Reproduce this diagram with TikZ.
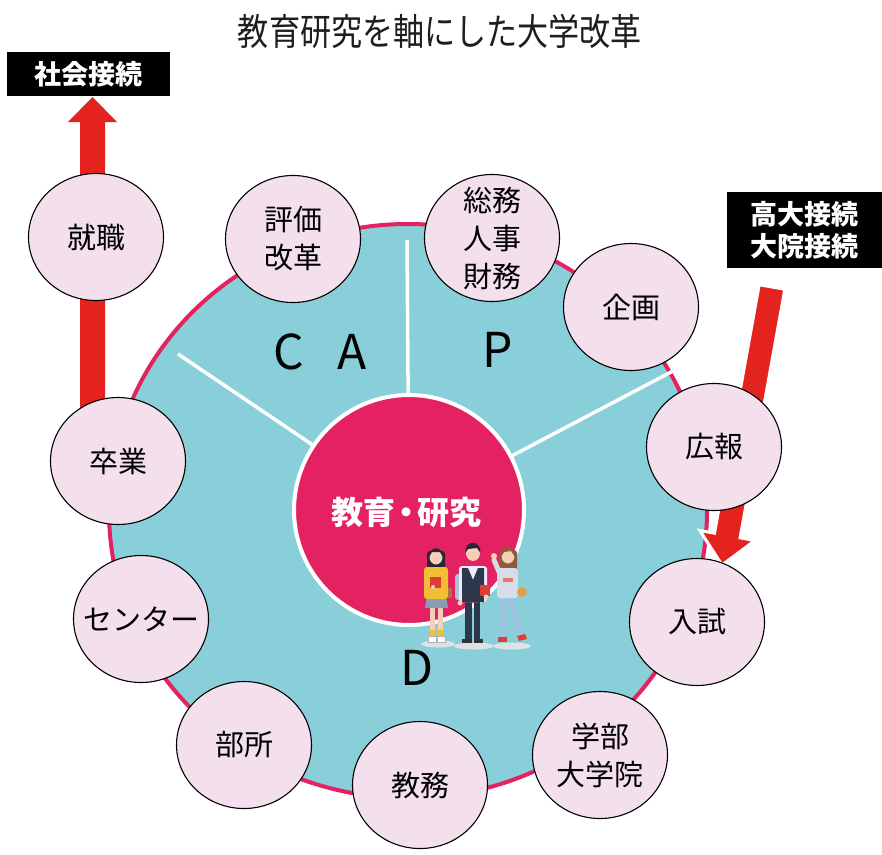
\documentclass[tikz,border=0pt]{standalone}
\usepackage{graphicx}
\usepackage{fontspec}
\newfontfamily\jp{Noto Sans CJK JP}
\usetikzlibrary{shapes.geometric}

\definecolor{ringfill}{RGB}{137,207,217}
\definecolor{ringedge}{RGB}{228,34,95}
\definecolor{corefill}{RGB}{228,34,98}
\definecolor{bubblefill}{RGB}{243,224,236}
\definecolor{arrowred}{RGB}{229,35,30}
\definecolor{titleink}{RGB}{30,30,30}
\definecolor{skin}{RGB}{246,208,182}
\definecolor{hairdark}{RGB}{40,38,50}
\definecolor{hairbrown}{RGB}{140,92,62}
\definecolor{shirtyellow}{RGB}{240,192,50}
\definecolor{navy}{RGB}{45,55,75}
\definecolor{denim}{RGB}{160,195,225}
\definecolor{lightgrey}{RGB}{215,220,230}
\definecolor{shadowgrey}{RGB}{220,226,230}
\definecolor{bookred}{RGB}{222,60,55}
\definecolor{bagbrown}{RGB}{170,120,70}
\definecolor{bagorange}{RGB}{225,160,70}
\definecolor{packblue}{RGB}{170,196,220}
\definecolor{skirtgrey}{RGB}{140,155,180}

\begin{document}
\begin{tikzpicture}[x=1pt,y=-1pt,
  bubble/.style={ellipse, draw=black, line width=1.1pt, fill=bubblefill,
    minimum width=135pt, minimum height=127pt, inner sep=0pt},
  bubtext/.style={inner sep=0pt, align=center,
    font=\jp\fontsize{29}{38}\selectfont},
  tagbox/.style={fill=black, text=white, inner sep=0pt, align=center,
    font=\jp\bfseries\fontsize{27}{32}\selectfont},
  divider/.style={draw=white, line width=3.5pt},
  phase/.style={font=\jp\fontsize{48}{48}\selectfont, text=black, inner sep=0pt},
  blockarrow/.style={fill=arrowred},
]
\useasboundingbox (0,0) rectangle (882,854);

% title
\node[font=\jp\fontsize{37}{37}\selectfont, text=titleink] (title) at (440,31)
  {\scalebox{0.84}[1]{教育研究を軸にした大学改革}};

% upward block arrow: graduation -> society
\fill[blockarrow] (80,440) -- (80,122) -- (68,122) -- (92.5,97) -- (117,122)
  -- (105,122) -- (105,440) -- cycle;

% outer ring
\node[ellipse, fill=ringfill, draw=ringedge, line width=4pt,
  minimum width=598pt, minimum height=574pt, inner sep=0pt] (ring) at (408,511) {};

% core circle and the three dividers
\coordinate (dvtop) at (407,240);
\coordinate (dvleft) at (178,354);
\coordinate (dvright) at (673,371);
\coordinate (corectr) at (409,510);
\draw[divider] (dvtop) -- (corectr);
\draw[divider] (dvleft) -- (corectr);
\draw[divider] (dvright) -- (corectr);
\node[circle, fill=corefill, draw=white, line width=4pt, minimum size=230pt,
  inner sep=0pt] (core) at (corectr) {};
\node[font=\jp\bfseries\fontsize{32}{32}\selectfont, text=white] (corelabel)
  at (406,512) {教育\hspace{-5pt}・\hspace{-5pt}研究};

% PDCA letters
\node[phase] (ca) at (320,352) {C\hspace{33pt}A};
\node[phase] (p) at (498,350) {P};
\node[phase] (d) at (417,668) {D};

% students
\fill[shadowgrey] (438,644) ellipse [x radius=17, y radius=3.5];
\fill[shadowgrey] (474,646) ellipse [x radius=20, y radius=3.5];
\fill[shadowgrey] (512,646) ellipse [x radius=19, y radius=3.5];
% girl, left
\fill[hairdark, rounded corners=3] (427,551) rectangle (445,579);
\fill[skin] (430,604) rectangle (434.5,634);
\fill[skin] (438,604) rectangle (442.5,634);
\fill[shirtyellow] (430,630) rectangle (434.5,636);
\fill[shirtyellow] (438,630) rectangle (442.5,636);
\filldraw[fill=white, draw=gray!60, line width=0.4pt] (428,636) rectangle (436,642);
\filldraw[fill=white, draw=gray!60, line width=0.4pt] (437,636) rectangle (445,642);
\fill[skirtgrey] (427,596) -- (446,596) -- (448,608) -- (425,608) -- cycle;
\fill[shirtyellow, rounded corners=3] (424,567) rectangle (448,599);
\fill[bookred] (430,577) rectangle (441,588);
\fill[skin] (433,587) circle (2);
\fill[bagbrown] (448,588) rectangle (452,598);
\fill[skin] (436,557) ellipse [x radius=6.5, y radius=7.5];
\fill[hairdark] (428.5,558) .. controls (428,545) and (444,545) .. (443.5,558)
  -- (440,552) -- (432,552) -- cycle;
% boy, middle
\fill[packblue, rounded corners=3] (455,574) rectangle (466,600);
\fill[navy] (465,598) rectangle (471.5,640);
\fill[navy] (473.5,598) rectangle (480,640);
\fill[black!80] (462,639) rectangle (471.5,643);
\fill[black!80] (473.5,639) rectangle (483,643);
\fill[white!92!blue, rounded corners=3] (459,566) rectangle (487,602);
\fill[navy] (462,568) -- (468,568) -- (473,580) -- (478,568) -- (484,568)
  -- (484,602) -- (462,602) -- cycle;
\fill[bookred] (480,585) rectangle (490,596);
\fill[skin] (460,603) circle (2.5);
\fill[skin] (486,597) circle (2.5);
\fill[skin] (473,553) ellipse [x radius=7, y radius=8];
\fill[hairdark] (465.5,553) .. controls (464,540) and (481,539) .. (480.5,553)
  -- (477,548) -- (468,549) -- cycle;
% girl, right
\fill[hairbrown, rounded corners=3] (499,550) rectangle (517,592);
\fill[denim] (499,596) -- (506,596) -- (505,638) -- (500,638) -- cycle;
\fill[denim] (506,596) -- (513,596) -- (523,636) -- (518,638) -- cycle;
\fill[bookred] (498,637) rectangle (507,642);
\fill[bookred] (517,636) -- (525,634) -- (527,639) -- (519,641) -- cycle;
\fill[lightgrey, rounded corners=3] (497,568) rectangle (518,598);
\fill[bookred!70] (503,578) rectangle (513,582);
\draw[lightgrey, line width=5pt, line cap=round] (499,572) -- (494,560);
\fill[skin] (494,556) circle (3);
\fill[bagorange] (522,592) circle (5);
\fill[skin] (508,556) ellipse [x radius=6.5, y radius=7.5];
\fill[hairbrown] (501,557) .. controls (500,544) and (516,544) .. (515,557)
  -- (511,551) -- (504,552) -- cycle;

% downward block arrow: high school / graduate entry -> admissions
\filldraw[blockarrow, draw=white, line width=3pt, line join=miter]
  (759.2,284.7) -- (784.8,289.3) -- (740.1,537.8) -- (754.9,540.5)
  -- (722,565) -- (699.8,530.5) -- (714.5,533.2) -- cycle;

% bubbles around the ring
\node[bubble] (shushoku) at (96,237) {};
\node[bubble] (hyoka) at (293,239) {};
\node[bubble] (somu) at (492,238) {};
\node[bubble] (kikaku) at (631,307) {};
\node[bubble] (koho) at (714,447) {};
\node[bubble] (nyushi) at (697,622) {};
\node[bubble] (gakubu) at (600,755) {};
\node[bubble] (kyomu) at (420,785) {};
\node[bubble] (busho) at (244,745) {};
\node[bubble] (center) at (141,619) {};
\node[bubble] (sotsugyo) at (118,461) {};

\node[bubtext] (shushoku-t) at (shushoku) {就職};
\node[bubtext] (hyoka-t) at (hyoka) {評価\\改革};
\node[bubtext] (somu-t) at (somu) {総務\\人事\\財務};
\node[bubtext] (kikaku-t) at (kikaku) {企画};
\node[bubtext] (koho-t) at (koho) {広報};
\node[bubtext] (nyushi-t) at (nyushi) {入試};
\node[bubtext] (gakubu-t) at (gakubu) {学部\\大学院};
\node[bubtext] (kyomu-t) at (kyomu) {教務};
\node[bubtext] (busho-t) at (busho) {部所};
\node[bubtext] (center-t) at (center) {センター};
\node[bubtext] (sotsugyo-t) at (sotsugyo) {卒業};

% black tags
\node[tagbox, minimum width=163pt, minimum height=44pt] (shakai) at (88.5,74) {社会接続};
\node[tagbox, minimum width=155pt, minimum height=76pt] (kodai) at (804.5,230)
  {高大接続\\大院接続};
\end{tikzpicture}
\end{document}
